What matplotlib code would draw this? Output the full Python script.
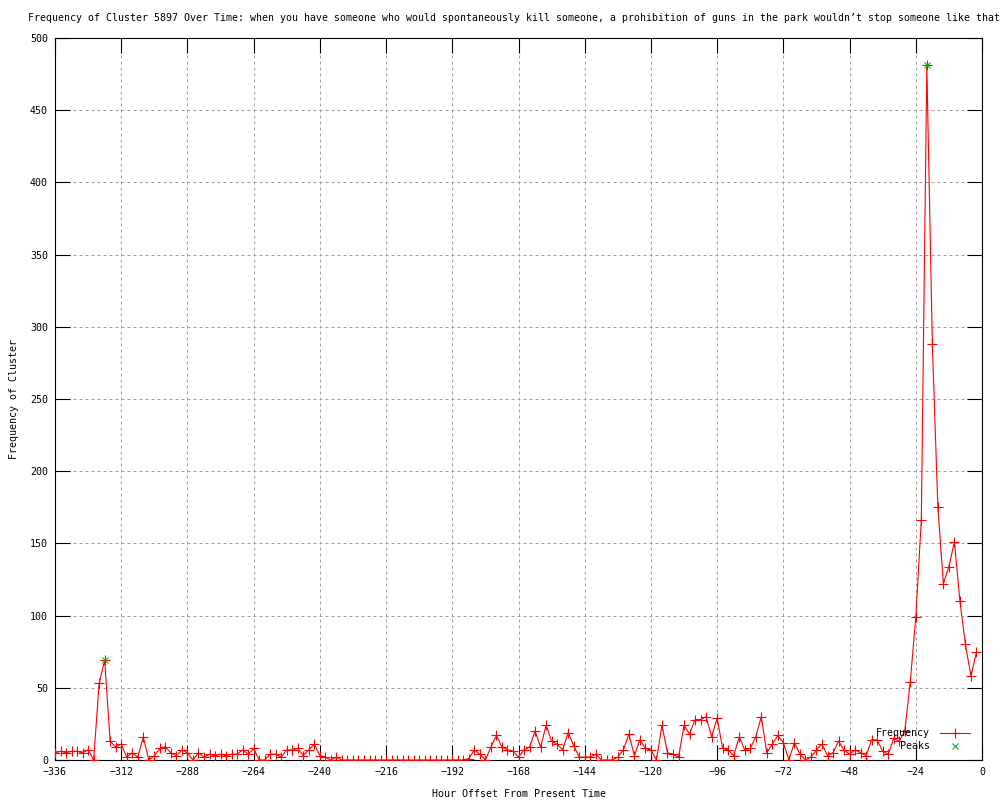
import numpy as np
import matplotlib
matplotlib.use('Agg')
import matplotlib.pyplot as plt

# hourly bins (every 2 hours) from -336 to -2
hours = np.arange(-336, 0, 2)
frequency = [
    5, 6, 5, 6, 6, 5, 7, 0, 53, 69,            # -336 .. -318
    13, 9, 11, 2, 5, 2, 16, 0, 3, 8,           # -316 .. -298
    9, 5, 3, 7, 5, 0, 5, 2, 4, 3,              # -296 .. -278
    4, 3, 4, 4, 7, 4, 8, 0, 0, 4,              # -276 .. -258
    4, 2, 7, 7, 8, 3, 7, 11, 3, 2,             # -256 .. -238
    0, 2, 0, 0, 0, 0, 0, 0, 0, 0,              # -236 .. -218
    0, 0, 0, 0, 0, 0, 0, 0, 0, 0,              # -216 .. -198
    0, 0, 0, 0, 0, 1, 7, 4, 0, 9,              # -196 .. -178
    17, 9, 7, 6, 2, 7, 9, 20, 9, 24,           # -176 .. -158
    13, 11, 7, 19, 10, 2, 2, 2, 4, 0,          # -156 .. -138
    0, 0, 2, 7, 18, 3, 14, 8, 7, 0,            # -136 .. -118
    24, 5, 4, 2, 24, 18, 28, 28, 30, 16,       # -116 .. -98
    29, 8, 7, 3, 16, 7, 8, 16, 30, 5,          # -96 .. -78
    11, 17, 12, 0, 12, 4, 0, 2, 7, 11,         # -76 .. -58
    3, 5, 13, 7, 4, 7, 5, 3, 14, 14,           # -56 .. -38
    6, 4, 15, 13, 20, 54, 99, 166, 481, 288,   # -36 .. -18
    175, 122, 134, 151, 110, 80, 58, 75,       # -16 .. -2
]
peak_hours = [-318, -20]
peak_values = [69, 481]

x_ticks = list(range(-336, 1, 24))
y_ticks = list(range(0, 501, 50))

title = ("Frequency of Cluster 5897 Over Time: when you have someone who would "
         "spontaneously kill someone, a prohibition of guns in the park "
         "wouldn\u2019t stop someone like that")

plt.rcParams['font.family'] = ['DejaVu Sans Mono']
fs = 7.2

fig = plt.figure(figsize=(10, 8), dpi=100)
ax = fig.add_axes([0.055, 0.05, 0.927, 0.9025])

ax.plot(hours, frequency, color='#ff0000', lw=0.8, marker='+', ms=6.5, mew=0.8,
        label='Frequency', zorder=3)
ax.plot(peak_hours, peak_values, ls='none', color='#00c000', marker='x', ms=5,
        mew=0.8, label='    Peaks', zorder=4)

ax.set_xlim(-336, 0)
ax.set_ylim(0, 500)
ax.set_xticks(x_ticks)
ax.set_yticks(y_ticks)
ax.tick_params(direction='in', length=11, width=0.8, top=True, right=True,
               labelsize=fs, pad=5, colors='black')
ax.grid(True, color='#a0a0a0', lw=0.72, linestyle=(0, (3, 3)))
for s in ax.spines.values():
    s.set_linewidth(0.8)
    s.set_color('black')

ax.set_xlabel('Hour Offset From Present Time', fontsize=fs, labelpad=9)
ax.set_ylabel('Frequency of Cluster', fontsize=fs, labelpad=8)

# title runs almost the full width, as in the original
fig.text(0.028, 0.978, title, fontsize=7.1, ha='left', va='center')

ax.legend(loc='lower right', bbox_to_anchor=(0.987, 0.012), frameon=False,
          markerfirst=False, fontsize=fs, handlelength=3, handletextpad=1.0,
          labelspacing=0.3, borderpad=0, borderaxespad=0)

fig.savefig('out.png', dpi=100)
